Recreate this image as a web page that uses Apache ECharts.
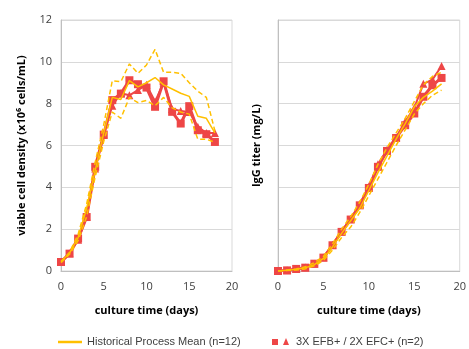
<!DOCTYPE html>
<html>
<head>
<meta charset="utf-8">
<script src="https://cdn.jsdelivr.net/npm/echarts@6/dist/echarts.min.js"></script>
<style>
  html, body { margin: 0; padding: 0; background: #fff; }
  #chart { width: 469px; height: 349px; }
</style>
</head>
<body>
<div id="chart"></div>
<script>
// culture days 0..18
const days = [0,1,2,3,4,5,6,7,8,9,10,11,12,13,14,15,16,17,18];

// viable cell density (x10^6 cells/mL)
const vcdMean  = [0.45,0.85,1.6,3.0,4.8,6.6,8.3,8.2,9.1,8.8,9.0,9.25,8.9,8.7,8.5,8.35,7.4,7.3,6.6];
const vcdUpper = [0.45,0.9,1.75,3.2,5.2,7.0,9.1,9.05,9.9,9.45,9.85,10.6,9.5,9.5,9.45,9.0,8.6,8.3,6.7];
const vcdLower = [0.4,0.8,1.45,2.6,4.5,6.2,7.6,7.3,8.3,8.05,8.15,7.9,8.3,7.8,7.6,7.5,6.3,6.3,6.15];
const vcdSq    = [0.43,0.83,1.55,2.58,4.98,6.52,8.17,8.48,9.12,8.93,8.77,7.85,9.07,7.61,7.05,7.88,6.73,6.54,6.17];
const vcdTri   = [0.43,0.85,1.5,2.6,4.9,6.5,7.9,8.5,8.4,8.65,8.9,8.1,9.0,7.75,7.65,7.6,6.9,6.6,6.6];

// IgG titer (unlabelled axis, read on the gridline scale)
const igMean  = [0,0.03,0.08,0.15,0.3,0.6,1.15,1.8,2.4,3.0,3.85,4.7,5.5,6.3,7.05,7.85,8.3,8.6,8.95];
const igUpper = [0,0.05,0.1,0.2,0.4,0.7,1.3,2.0,2.6,3.3,4.15,5.1,5.9,6.6,7.3,8.1,8.9,9.3,9.5];
const igLower = [0,0.02,0.05,0.1,0.25,0.5,1.0,1.6,2.1,2.8,3.6,4.4,5.2,6.0,6.75,7.5,8.0,8.4,8.65];
const igSq    = [0,0.03,0.1,0.16,0.35,0.64,1.23,1.87,2.46,3.14,3.97,4.98,5.74,6.36,6.97,7.53,8.33,8.88,9.23];
const igTri   = [0,0.03,0.1,0.17,0.35,0.64,1.25,1.9,2.5,3.2,4.05,5.1,5.8,6.4,7.15,7.8,8.95,9.15,9.8];

const RED = '#EE4646';
const GOLD = '#FFC000';
const FONT = 'Open Sans';

const pair = arr => arr.map((v, i) => [days[i], v]);

function axisX(idx) {
  return {
    type: 'value', gridIndex: idx, min: 0, max: 20, interval: 5,
    name: 'culture time (days)', nameLocation: 'middle', nameGap: 34,
    nameTextStyle: { color: '#000', fontFamily: FONT, fontWeight: 'bold', fontSize: 11 },
    axisLine: { lineStyle: { color: '#BFBFBF' } }, axisTick: { show: false },
    splitLine: { show: false },
    axisLabel: { color: '#404040', fontFamily: FONT, fontSize: 11, margin: 10 },
  };
}

function axisY(idx, name, showLabels, gap) {
  return {
    type: 'value', gridIndex: idx, min: 0, max: 12, interval: 2,
    name: name, nameLocation: 'middle', nameGap: gap,
    nameTextStyle: { color: '#000', fontFamily: FONT, fontWeight: 'bold', fontSize: 11 },
    axisLine: { show: true, lineStyle: { color: '#BFBFBF' } }, axisTick: { show: false },
    splitLine: { lineStyle: { color: '#D9D9D9' } },
    axisLabel: { show: showLabels, color: '#404040', fontFamily: FONT, fontSize: 11, margin: 9 },
  };
}

function group(idx, mean, upper, lower, sq, tri) {
  const base = { type: 'line', xAxisIndex: idx, yAxisIndex: idx, animation: false };
  return [
    Object.assign({}, base, { data: pair(sq), symbol: 'rect', symbolSize: 8, z: 2,
      itemStyle: { color: RED }, lineStyle: { color: RED, width: 3 } }),
    Object.assign({}, base, { data: pair(tri), symbol: 'triangle', symbolSize: 8, z: 2,
      itemStyle: { color: RED }, lineStyle: { color: RED, width: 2 } }),
    Object.assign({}, base, { data: pair(upper), showSymbol: false, z: 3,
      lineStyle: { color: GOLD, width: 1.5, type: [5, 3] } }),
    Object.assign({}, base, { data: pair(lower), showSymbol: false, z: 3,
      lineStyle: { color: GOLD, width: 1.5, type: [5, 3] } }),
    Object.assign({}, base, { data: pair(mean), showSymbol: false, z: 3,
      lineStyle: { color: GOLD, width: 1.5 } }),
  ];
}

const chart = echarts.init(document.getElementById('chart'), null, { renderer: 'canvas' });
chart.setOption({
  backgroundColor: '#fff',
  grid: [
    { left: 61, top: 20, width: 171, height: 251, show: true, borderColor: '#D9D9D9', borderWidth: 1 },
    { left: 278, top: 20, width: 184, height: 251, show: true, borderColor: '#D9D9D9', borderWidth: 1 },
  ],
  xAxis: [axisX(0), axisX(1)],
  yAxis: [
    axisY(0, 'viable cell density (x10⁶ cells/mL)', true, 34),
    axisY(1, 'IgG titer (mg/L)', false, 16),
  ],
  series: group(0, vcdMean, vcdUpper, vcdLower, vcdSq, vcdTri)
    .concat(group(1, igMean, igUpper, igLower, igSq, igTri)),
  graphic: [
    { type: 'line', shape: { x1: 58, y1: 342, x2: 82, y2: 342 }, style: { stroke: GOLD, lineWidth: 2.5 } },
    { type: 'text', left: 87, top: 336, style: { text: 'Historical Process Mean (n=12)', fill: '#404040',
      font: '11px "Liberation Sans", Arial, sans-serif' } },
    { type: 'rect', shape: { x: 272, y: 339, width: 6, height: 6 }, style: { fill: RED } },
    { type: 'polygon', shape: { points: [[283, 345], [286, 338], [289, 345]] }, style: { fill: RED } },
    { type: 'text', left: 296, top: 336, style: { text: '3X EFB+ / 2X EFC+ (n=2)', fill: '#404040',
      font: '11px "Liberation Sans", Arial, sans-serif' } },
  ],
});
</script>
</body>
</html>
